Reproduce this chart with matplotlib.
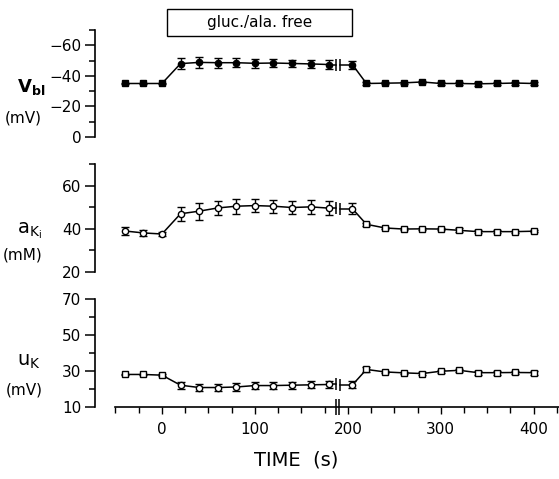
import numpy as np
import matplotlib
matplotlib.use('Agg')
import matplotlib.pyplot as plt
from matplotlib.patches import Rectangle
from matplotlib.ticker import MultipleLocator, FixedLocator

# time points (s), before and after the axis break
t_pre = [-40, -20, 0, 20, 40, 60, 80, 100, 120, 140, 160, 180]
t_post = [205, 220, 240, 260, 280, 300, 320, 340, 360, 380, 400]

# basolateral membrane potential (mV)
vbl_pre = [-35, -35, -35, -48, -48.8, -48.6, -48.6, -48.2, -48.4, -48.1, -47.8, -47.4]
vbl_pre_err = [0.6, 0.6, 0.6, 3.5, 3.5, 3.3, 3.0, 2.8, 2.8, 2.5, 2.5, 3.0]
vbl_post = [-47.3, -35, -35.2, -35.4, -36, -35, -35, -34.8, -35, -35.3, -35]
vbl_post_err = [2.5, 0.8, 0.8, 0.8, 0.8, 0.8, 1.0, 1.5, 1.0, 1.0, 1.0]

# intracellular K activity (mM)
aki_pre = [38.9, 38.0, 37.5, 46.9, 48.1, 49.6, 50.4, 50.7, 50.4, 49.8, 50.1, 49.5]
aki_pre_err = [1.8, 1.5, 1.0, 3.2, 4.0, 3.4, 3.5, 3.2, 3.0, 3.0, 3.2, 3.4]
aki_post = [49.2, 42.0, 40.3, 39.8, 39.9, 39.8, 39.2, 38.6, 38.6, 38.6, 38.8]
aki_post_err = [2.5, 0.7, 0.6, 0.5, 0.5, 0.5, 1.0, 0.7, 0.6, 0.5, 0.6]

# K equilibrium potential (mV)
uk_pre = [28.0, 28.0, 27.6, 22.0, 20.7, 20.7, 21.0, 21.8, 21.8, 22.0, 22.2, 22.4]
uk_pre_err = [0.5, 0.5, 0.6, 2.0, 2.0, 2.0, 2.0, 2.0, 2.0, 2.0, 2.0, 2.0]
uk_post = [22.2, 30.8, 29.4, 28.9, 28.5, 29.8, 30.3, 29.0, 29.0, 29.1, 29.0]
uk_post_err = [2.0, 1.2, 0.8, 0.6, 0.6, 0.8, 0.8, 1.2, 1.2, 1.0, 1.2]

x_ticks = [0, 100, 200, 300, 400]
brk = (187, 192)


def draw_series(ax, ypre, epre, ypost, epost, mk_pre, mk_plat, mk_post, filled):
    fc = 'black' if filled else 'white'
    ax.plot(t_pre, ypre, color='black', lw=1.1, zorder=2)
    ax.plot(t_post, ypost, color='black', lw=1.1, zorder=2)
    ax.errorbar(t_pre + t_post, ypre + ypost, yerr=epre + epost, fmt='none',
                ecolor='black', elinewidth=1, capsize=3, capthick=1, zorder=3)
    ax.plot(t_pre[:3], ypre[:3], ls='none', marker=mk_pre, ms=4.5, mfc=fc,
            mec='black', mew=1, zorder=4)
    ax.plot(t_pre[3:] + t_post[:1], ypre[3:] + ypost[:1], ls='none', marker=mk_plat,
            ms=4.5, mfc=fc, mec='black', mew=1, zorder=4)
    ax.plot(t_post[1:], ypost[1:], ls='none', marker=mk_post, ms=4.5, mfc=fc,
            mec='black', mew=1, zorder=4)
    # break of the time axis on the trace
    ax.plot([t_pre[-1], brk[0]], [ypre[-1], ypre[-1]], color='black', lw=1.1)
    ax.plot([brk[1], t_post[0]], [ypost[0], ypost[0]], color='black', lw=1.1)
    ax.plot([brk[0]], [ypre[-1]], marker='|', ms=8, mew=1.1, color='black')
    ax.plot([brk[1]], [ypost[0]], marker='|', ms=8, mew=1.1, color='black')


def style(ax, ylim, major, minor):
    ax.set_xlim(-72, 426)
    ax.set_ylim(*ylim)
    for s in ['top', 'right']:
        ax.spines[s].set_visible(False)
    ax.spines['left'].set_linewidth(1.2)
    ax.yaxis.set_major_locator(FixedLocator(major))
    ax.yaxis.set_minor_locator(FixedLocator(minor))
    ax.tick_params(axis='y', which='major', length=7, width=1.1, labelsize=11, pad=3)
    ax.tick_params(axis='y', which='minor', length=4, width=1.1)


fig = plt.figure(figsize=(5.59, 4.79), dpi=100)
plt.rcParams['font.family'] = 'DejaVu Sans'

ax1 = fig.add_axes([0.170, 0.714, 0.828, 0.2234])
ax2 = fig.add_axes([0.170, 0.4328, 0.828, 0.2248])
ax3 = fig.add_axes([0.170, 0.151, 0.828, 0.2242])

draw_series(ax1, vbl_pre, vbl_pre_err, vbl_post, vbl_post_err, 's', 'o', 's', True)
draw_series(ax2, aki_pre, aki_pre_err, aki_post, aki_post_err, 'o', 'o', 's', False)
draw_series(ax3, uk_pre, uk_pre_err, uk_post, uk_post_err, 's', 'o', 's', False)

style(ax1, (0, -70), [0, -20, -40, -60], [-10, -30, -50, -70])
style(ax2, (20, 70), [20, 40, 60], [30, 50, 70])
style(ax3, (10, 70), [10, 30, 50, 70], [20, 40, 60])
ax1.set_yticklabels(['0', '\u221220', '\u221240', '\u221260'])

for ax in (ax1, ax2):
    ax.spines['bottom'].set_visible(False)
    ax.set_xticks([])

ax3.spines['bottom'].set_bounds(-50, 428)
ax3.spines['bottom'].set_linewidth(1.2)
ax3.xaxis.set_major_locator(FixedLocator(x_ticks))
ax3.xaxis.set_minor_locator(MultipleLocator(25))
ax3.tick_params(axis='x', which='major', length=5, width=1, labelsize=11, pad=6)
ax3.tick_params(axis='x', which='minor', length=4, width=1)
ax3.plot(list(brk[:1]) + [brk[0] + 4], [10, 10], ls='none', marker='|', ms=12,
         mew=1.1, color='black', clip_on=False)

# labels
fig.text(0.055, 0.818, r'$\mathbf{V_{bl}}$', fontsize=13, ha='center', va='center')
fig.text(0.042, 0.754, '(mV)', fontsize=11, ha='center', va='center')
fig.text(0.052, 0.518, r'$\mathrm{a_{K_i}}$', fontsize=14, ha='center', va='center')
fig.text(0.040, 0.468, '(mM)', fontsize=11, ha='center', va='center')
fig.text(0.052, 0.245, r'$\mathrm{u_K}$', fontsize=14, ha='center', va='center')
fig.text(0.044, 0.185, '(mV)', fontsize=11, ha='center', va='center')
fig.text(0.53, 0.04, 'TIME  (s)', fontsize=14, ha='center', va='center')

# perfusion box
tr = ax1.get_xaxis_transform()
ax1.add_patch(Rectangle((5, 0.944), 200, 0.252, transform=tr, fill=False,
                        lw=1, ec='black', clip_on=False))
ax1.text(105, 1.07, 'gluc./ala. free', transform=tr, fontsize=11,
         ha='center', va='center')

fig.savefig('out.png', dpi=100)
